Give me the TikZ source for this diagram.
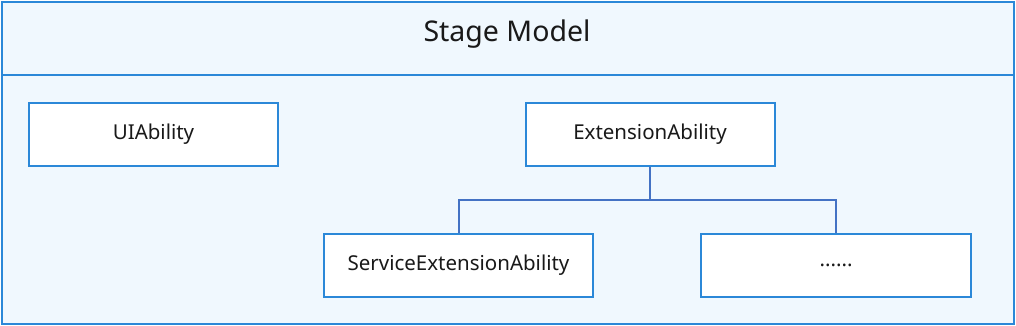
\documentclass[tikz,border=0pt]{standalone}
\usepackage{fontspec}
\setmainfont{Noto Sans}
\definecolor{frameblue}{RGB}{43,136,216}
\definecolor{linkblue}{RGB}{68,114,196}
\definecolor{paleblue}{RGB}{240,248,254}
\definecolor{textdark}{RGB}{25,25,25}
\usetikzlibrary{positioning, calc}

\begin{document}
\begin{tikzpicture}[
    x=1pt, y=-1pt,
    ability/.style={draw=frameblue, line width=2pt, fill=white, minimum width=249pt, minimum height=63pt, inner sep=0pt, text=textdark, font=\fontsize{20.5}{24}\selectfont},
    link/.style={draw=linkblue, line width=2pt}
]
  \useasboundingbox (0, 0) rectangle (1016, 326);
  \node[draw=frameblue, line width=2pt, fill=paleblue, minimum width=1012pt, minimum height=322pt, inner sep=0pt] (stage) at (508, 163) {};
  \node[text=textdark, font=\fontsize{28.5}{32}\selectfont] (title) at (507, 34) {Stage Model};
  \draw[draw=frameblue, line width=2pt] (2, 75) -- (1014, 75);

  \node[ability] (ui) at (153.5, 134.5) {UIAbility};
  \node[ability] (ext) at (650, 134.5) {ExtensionAbility};
  \node[ability, minimum width=269pt] (svc) at (458.5, 265) {ServiceExtensionAbility};
  \node[ability, minimum width=270pt] (more) at (836, 265) {......};

  % tree connectors
  \coordinate (fork) at (650, 200);
  \draw[link] (ext.south) -- (fork);
  \draw[link] (svc.north) |- (fork) -| (more.north);
\end{tikzpicture}
\end{document}
